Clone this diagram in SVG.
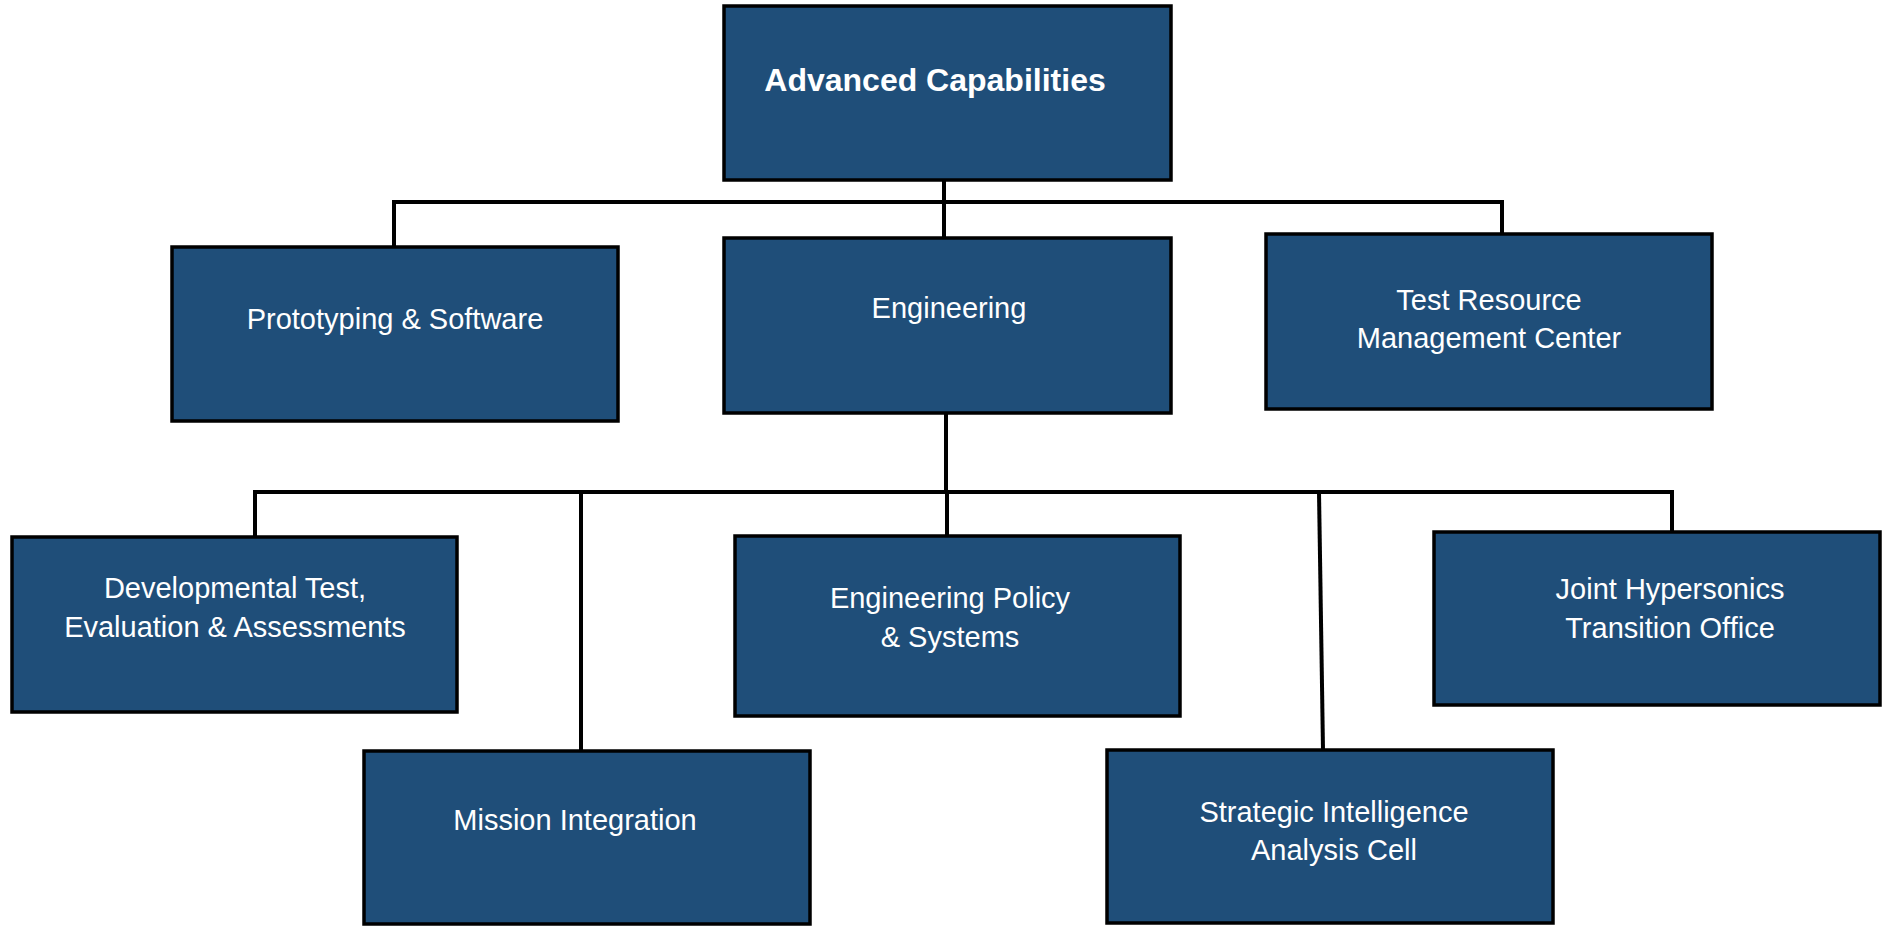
<svg xmlns="http://www.w3.org/2000/svg" width="1883" height="930" viewBox="0 0 1883 930">
<style>
.box{fill:#1F4E79;stroke:#000;stroke-width:3.5}
.lbl{font-family:"Liberation Sans",Arial,sans-serif;font-size:29px;fill:#fff;text-anchor:middle}
.title{font-family:"Liberation Sans",Arial,sans-serif;font-size:32px;font-weight:bold;fill:#fff;text-anchor:middle}
.conn{stroke:#000;stroke-width:4;fill:none}
</style>
<rect width="1883" height="930" fill="#fff"/>
<g id="connectors">
<path class="conn" d="M944 180 V238"/>
<path class="conn" d="M394 247 V202 H1502 V234"/>
<path class="conn" d="M946 413 V492"/>
<path class="conn" d="M255 537 V492 H1672 V532"/>
<path class="conn" d="M581 492 V751"/>
<path class="conn" d="M947 492 V536"/>
<path class="conn" d="M1319 492 L1323 750"/>
</g>
<g id="advanced-capabilities">
<rect class="box" x="724" y="6" width="447" height="174"/>
<text class="title" x="935" y="91">Advanced Capabilities</text>
</g>
<g id="prototyping-software">
<rect class="box" x="172" y="247" width="446" height="174"/>
<text class="lbl" x="395" y="329">Prototyping &amp; Software</text>
</g>
<g id="engineering">
<rect class="box" x="724" y="238" width="447" height="175"/>
<text class="lbl" x="949" y="318">Engineering</text>
</g>
<g id="trmc">
<rect class="box" x="1266" y="234" width="446" height="175"/>
<text class="lbl" x="1489" y="310">Test Resource</text>
<text class="lbl" x="1489" y="348">Management Center</text>
</g>
<g id="developmental-test">
<rect class="box" x="12" y="537" width="445" height="175"/>
<text class="lbl" x="235" y="598">Developmental Test,</text>
<text class="lbl" x="235" y="637">Evaluation &amp; Assessments</text>
</g>
<g id="engineering-policy">
<rect class="box" x="735" y="536" width="445" height="180"/>
<text class="lbl" x="950" y="608">Engineering Policy</text>
<text class="lbl" x="950" y="647">&amp; Systems</text>
</g>
<g id="joint-hypersonics">
<rect class="box" x="1434" y="532" width="446" height="173"/>
<text class="lbl" x="1670" y="599">Joint Hypersonics</text>
<text class="lbl" x="1670" y="638">Transition Office</text>
</g>
<g id="mission-integration">
<rect class="box" x="364" y="751" width="446" height="173"/>
<text class="lbl" x="575" y="830">Mission Integration</text>
</g>
<g id="strategic-intelligence">
<rect class="box" x="1107" y="750" width="446" height="173"/>
<text class="lbl" x="1334" y="822">Strategic Intelligence</text>
<text class="lbl" x="1334" y="860">Analysis Cell</text>
</g>
</svg>
